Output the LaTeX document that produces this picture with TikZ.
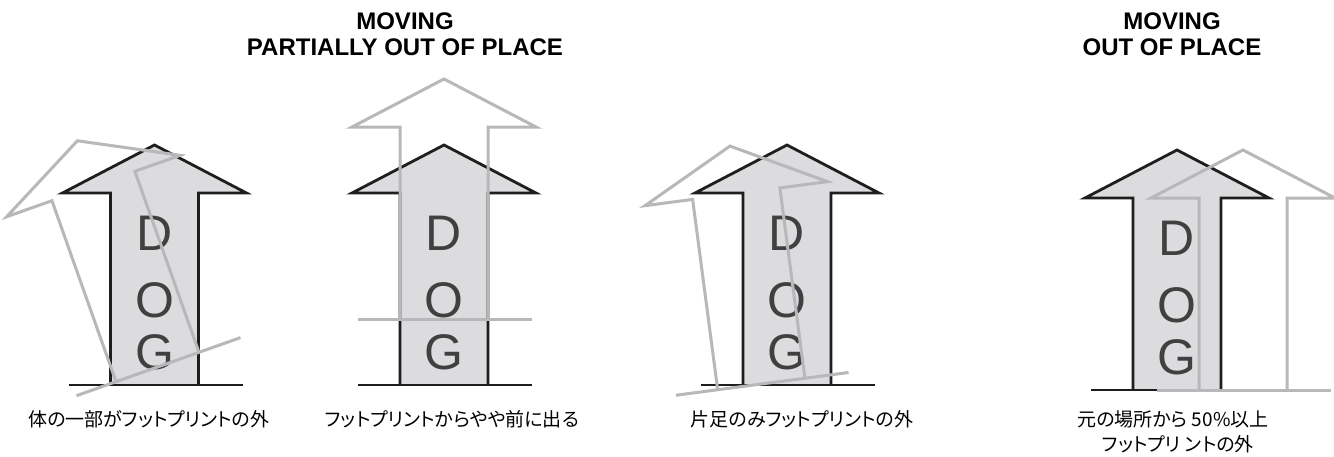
\documentclass[tikz,border=0pt]{standalone}
\usepackage{fontspec}
\setmainfont{Liberation Sans}
\newfontfamily\cjk[RawFeature=+palt]{Noto Sans CJK JP}
\definecolor{inkblack}{HTML}{1E1E1E}
\definecolor{ghostgray}{HTML}{B8B8BA}
\definecolor{shaftgray}{HTML}{DCDCDE}
\definecolor{lettergray}{HTML}{404040}
\tikzset{
  blackline/.style={draw=inkblack, line width=2.8pt, line join=miter},
  ghostline/.style={draw=ghostgray, line width=3pt, line join=miter},
  arrowfill/.style={fill=shaftgray},
  dogletter/.style={font=\fontsize{50}{50}\selectfont, text=lettergray, inner sep=0pt},
  headline/.style={font=\bfseries\fontsize{24}{26}\selectfont, inner sep=0pt, anchor=base},
  jlabel/.style={font=\cjk\fontsize{19}{23}\selectfont, inner sep=0pt},
  dogarrow/.pic={
    \fill[arrowfill] (-44,0) -- (-44,-192) -- (-92,-192) -- (0,-240) -- (92,-192) -- (44,-192) -- (44,0) -- cycle;
    \draw[blackline] (-44,0) -- (-44,-192) -- (-92,-192) -- (0,-240) -- (92,-192) -- (44,-192) -- (44,0);
    \draw[blackline] (-86,0) -- (88,0);
    \node[dogletter] (-D) at (0,-152) {D};
    \node[dogletter] (-O) at (0,-85) {O};
    \node[dogletter] (-G) at (0,-33) {G};
  },
  ghost/.pic={
    \draw[ghostline] (-44,0) -- (-44,-192) -- (-92,-192) -- (0,-240) -- (92,-192) -- (44,-192) -- (44,0);
    \draw[ghostline] (-86,0) -- (88,0);
  }
}
\begin{document}
\begin{tikzpicture}[x=1pt,y=-1pt]
\path[fill=white, use as bounding box] (0,0) rectangle (1334,456);
% titles
\node[headline] (t1a) at (405,29) {MOVING};
\node[headline] (t1b) at (405,55) {PARTIALLY OUT OF PLACE};
\node[headline] (t2a) at (1172,29) {MOVING};
\node[headline] (t2b) at (1172,55) {OUT OF PLACE};
% arrow 1
\pic (a1) at (154.5,385) {dogarrow};
\pic[rotate=19.5] (g1) at (157.5,367) {ghost};
% arrow 2
\pic (a2) at (444,385) {dogarrow};
\pic (g2) at (444,319) {ghost};
% arrow 3
\pic (a3) at (787,385) {dogarrow};
\pic[rotate=7.5] (g3) at (761.3,384) {ghost};
% arrow 4
\pic (a4) at (1177,390) {dogarrow};
\pic (g4) at (1243,390) {ghost};
% labels
\node[jlabel] (l1) at (149,419) {体の一部がフットプリントの外};
\node[jlabel] (l2) at (452,419) {フットプリントからやや前に出る};
\node[jlabel] (l3) at (802,419) {片足のみフットプリントの外};
\node[jlabel] (l4a) at (1173,419) {元の場所から 50\%以上};
\node[jlabel] (l4b) at (1178,444) {フットプリ ントの外};
\end{tikzpicture}
\end{document}
